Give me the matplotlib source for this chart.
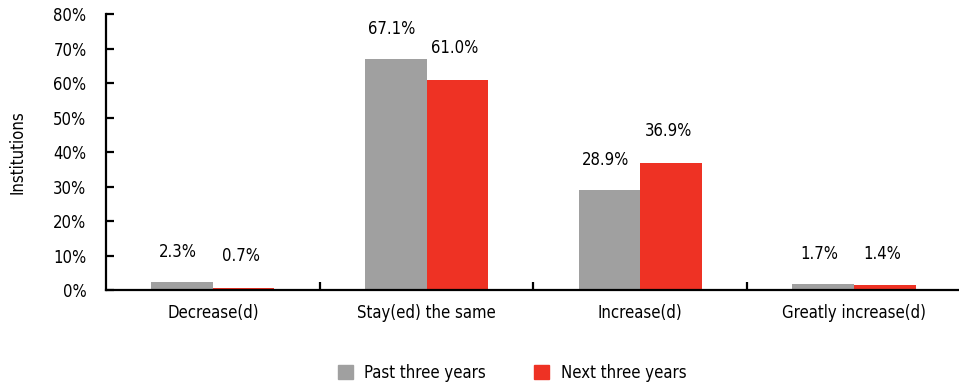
#!/usr/bin/env python3
"""Grouped bar chart: change in institutions, past vs next three years."""

import matplotlib
matplotlib.use("Agg")
import matplotlib.pyplot as plt
from matplotlib.patches import Patch
import numpy as np

plt.rcParams["font.family"] = ["DejaVu Sans"]
plt.rcParams["font.stretch"] = "condensed"

CATEGORIES = ["Decrease(d)", "Stay(ed) the same", "Increase(d)", "Greatly increase(d)"]
PAST = [2.3, 67.1, 28.9, 1.7]
NEXT = [0.7, 61.0, 36.9, 1.4]
SERIES = ["Past three years", "Next three years"]

GRAY = "#a0a0a0"
RED = "#ee3224"
FS = 12

fig = plt.figure(figsize=(9.59, 3.87), dpi=100)
ax = fig.add_axes([0.1105, 0.2506, 0.8915, 0.7132])

x = np.arange(len(CATEGORIES))
w = 0.288
ax.bar(x - w / 2, PAST, w, color=GRAY, zorder=2)
ax.bar(x + w / 2, NEXT, w, color=RED, zorder=2)

# value labels sit a fixed distance above each bar
for xi, v in zip(x - w / 2, PAST):
    ax.annotate(f"{v:.1f}%", (xi, v), xytext=(-3, 15), textcoords="offset points",
                ha="center", va="bottom", fontsize=FS)
for xi, v in zip(x + w / 2, NEXT):
    ax.annotate(f"{v:.1f}%", (xi, v), xytext=(-2, 16), textcoords="offset points",
                ha="center", va="bottom", fontsize=FS)

ax.set_xlim(-0.5, 3.5)
ax.set_ylim(0, 80)
ax.set_yticks(np.arange(0, 81, 10))
ax.set_yticklabels([f"{t}%" for t in range(0, 81, 10)], fontsize=FS)
ax.set_xticks(x)
ax.set_xticklabels(CATEGORIES, fontsize=FS)
ax.set_xticks(np.arange(0.5, 3.5, 1), minor=True)
ax.tick_params(axis="x", which="major", length=0, pad=10)
ax.tick_params(axis="x", which="minor", direction="in", length=6, width=1.6)
ax.tick_params(axis="y", direction="in", length=6, width=1.6, pad=14)
ax.set_ylabel("Institutions", fontsize=FS, labelpad=19)

for side in ("top", "right"):
    ax.spines[side].set_visible(False)
for side in ("left", "bottom"):
    ax.spines[side].set_linewidth(1.6)

handles = [Patch(color=GRAY), Patch(color=RED)]
fig.legend(handles, SERIES, loc="center", bbox_to_anchor=(0.534, 0.036), ncol=2,
           frameon=False, fontsize=FS, handlelength=0.9, handleheight=0.9,
           columnspacing=2.9, handletextpad=0.7)

fig.savefig("out.png", dpi=100)
